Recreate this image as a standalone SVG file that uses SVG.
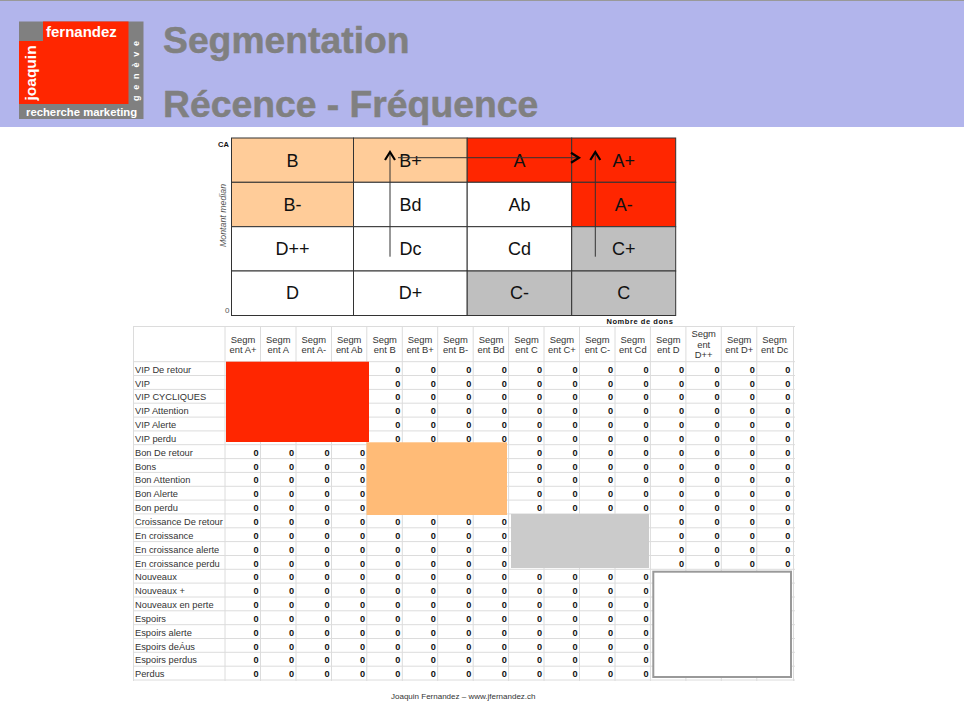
<svg xmlns="http://www.w3.org/2000/svg" width="964" height="703" viewBox="0 0 964 703">
<style>
text{font-family:"Liberation Sans",Arial,sans-serif}
.cell{stroke:#333;stroke-width:1}
.cl{font-size:18px;fill:#111;text-anchor:middle}
.grid{stroke:#dcdcdc;stroke-width:1;fill:none}
.h{font-size:9.4px;fill:#333;text-anchor:middle}
.l{font-size:9.3px;fill:#333}
.z text{font-size:9.2px;font-weight:bold;fill:#111}
.title{font-size:37.3px;font-weight:bold;fill:#808080;stroke:#808080;stroke-width:.5}
.arrow{stroke:#333;stroke-width:1;fill:none;marker-end:url(#head)}
</style>
<defs>
<marker id="head" markerUnits="userSpaceOnUse" markerWidth="14" markerHeight="14" refX="9" refY="6" orient="auto"><path d="M1 1L9 6L1 11" fill="none" stroke="#000" stroke-width="2.2"/></marker>
</defs>
<rect width="964" height="703" fill="#fff"/>
<g id="banner">
<rect x="0" y="0" width="964" height="127" fill="#b2b5ec"/>
<rect x="0" y="0" width="964" height="1" fill="#999"/>
<text class="title" x="163" y="53">Segmentation</text>
<text class="title" x="163" y="117">Récence - Fréquence</text>
</g>
<g id="logo">
<rect x="19" y="21.5" width="124.5" height="97.5" fill="#808080"/>
<path d="M43 21.5H128.5V104H19V41H43Z" fill="#ff2600"/>
<text x="46" y="37" font-size="15" font-weight="bold" fill="#fff">fernandez</text>
<text transform="translate(36,100.5) rotate(-90)" font-size="15.5" font-weight="bold" fill="#fff">joaquin</text>
<text x="26" y="116" font-size="11.3" font-weight="bold" fill="#fff">recherche marketing</text>
<text transform="translate(139,101) rotate(-90)" font-size="9" font-weight="bold" fill="#fff" letter-spacing="5.8">genève</text>
</g>
<g id="matrix">
<g id="cell-B"><rect class="cell" x="231.5" y="138" width="122" height="44.3" fill="#fc9"/><text class="cl" x="292.5" y="166.7">B</text></g>
<g id="cell-Bp"><rect class="cell" x="353.5" y="138" width="113.7" height="44.3" fill="#fc9"/><text class="cl" x="410.5" y="166.7">B+</text></g>
<g id="cell-A"><rect class="cell" x="467.2" y="138" width="104.5" height="44.3" fill="#ff2600"/><text class="cl" x="519.5" y="166.7">A</text></g>
<g id="cell-Ap"><rect class="cell" x="571.7" y="138" width="104" height="44.3" fill="#ff2600"/><text class="cl" x="623.7" y="166.7">A+</text></g>
<g id="cell-Bm"><rect class="cell" x="231.5" y="182.3" width="122" height="44.4" fill="#fc9"/><text class="cl" x="292.5" y="211">B-</text></g>
<g id="cell-Bd"><rect class="cell" x="353.5" y="182.3" width="113.7" height="44.4" fill="#fff"/><text class="cl" x="410.5" y="211">Bd</text></g>
<g id="cell-Ab"><rect class="cell" x="467.2" y="182.3" width="104.5" height="44.4" fill="#fff"/><text class="cl" x="519.5" y="211">Ab</text></g>
<g id="cell-Am"><rect class="cell" x="571.7" y="182.3" width="104" height="44.4" fill="#ff2600"/><text class="cl" x="623.7" y="211">A-</text></g>
<g id="cell-Dpp"><rect class="cell" x="231.5" y="226.7" width="122" height="44.3" fill="#fff"/><text class="cl" x="292.5" y="255">D++</text></g>
<g id="cell-Dc"><rect class="cell" x="353.5" y="226.7" width="113.7" height="44.3" fill="#fff"/><text class="cl" x="410.5" y="255">Dc</text></g>
<g id="cell-Cd"><rect class="cell" x="467.2" y="226.7" width="104.5" height="44.3" fill="#fff"/><text class="cl" x="519.5" y="255">Cd</text></g>
<g id="cell-Cp"><rect class="cell" x="571.7" y="226.7" width="104" height="44.3" fill="#bfbfbf"/><text class="cl" x="623.7" y="255">C+</text></g>
<g id="cell-D"><rect class="cell" x="231.5" y="271" width="122" height="44.5" fill="#fff"/><text class="cl" x="292.5" y="299">D</text></g>
<g id="cell-Dp"><rect class="cell" x="353.5" y="271" width="113.7" height="44.5" fill="#fff"/><text class="cl" x="410.5" y="299">D+</text></g>
<g id="cell-Cm"><rect class="cell" x="467.2" y="271" width="104.5" height="44.5" fill="#bfbfbf"/><text class="cl" x="519.5" y="299">C-</text></g>
<g id="cell-C"><rect class="cell" x="571.7" y="271" width="104" height="44.5" fill="#bfbfbf"/><text class="cl" x="623.7" y="299">C</text></g>
<text x="218" y="147" font-size="7.5" font-weight="bold" fill="#111">CA</text>
<text x="225" y="313" font-size="8" fill="#555">0</text>
<text transform="translate(226,247) rotate(-90)" font-size="8.8" font-style="italic" fill="#555">Montant median</text>
<text x="606.5" y="323.5" font-size="7.5" font-weight="bold" fill="#111" letter-spacing="0.55">Nombre de dons</text>
</g>
<g id="connectors">
<path class="arrow" d="M390 256.7V152"/>
<path class="arrow" d="M595.3 256.7V152"/>
<path class="arrow" d="M398 157.7H579"/>
</g>
<g id="grid" class="grid">
<path d="M133.5 326V681M225 326V681M260.5 326V681M296 326V681M331.5 326V681M366.8 326V681M402.3 326V681M437.7 326V681M473.2 326V681M508.6 326V681M544 326V681M579.5 326V681M615 326V681M650.4 326V681M685.9 326V681M721.3 326V681M756.8 326V681M793.5 326V681"/>
<path d="M133 326.5H795M133 361.7H795M133 375.5H795M133 389.4H795M133 403.2H795M133 417.1H795M133 430.9H795M133 444.7H795M133 458.6H795M133 472.4H795M133 486.3H795M133 500.1H795M133 513.9H795M133 527.8H795M133 541.6H795M133 555.5H795M133 569.3H795M133 583.1H795M133 597H795M133 610.8H795M133 624.7H795M133 638.5H795M133 652.3H795M133 666.2H795M133 680H795"/>
</g>
<g id="headers">
<text class="h" x="243" y="343">Segm</text><text class="h" x="243" y="353">ent A+</text>
<text class="h" x="278.3" y="343">Segm</text><text class="h" x="278.3" y="353">ent A</text>
<text class="h" x="313.8" y="343">Segm</text><text class="h" x="313.8" y="353">ent A-</text>
<text class="h" x="349.2" y="343">Segm</text><text class="h" x="349.2" y="353">ent Ab</text>
<text class="h" x="384.7" y="343">Segm</text><text class="h" x="384.7" y="353">ent B</text>
<text class="h" x="420.1" y="343">Segm</text><text class="h" x="420.1" y="353">ent B+</text>
<text class="h" x="455.6" y="343">Segm</text><text class="h" x="455.6" y="353">ent B-</text>
<text class="h" x="491" y="343">Segm</text><text class="h" x="491" y="353">ent Bd</text>
<text class="h" x="526.5" y="343">Segm</text><text class="h" x="526.5" y="353">ent C</text>
<text class="h" x="561.9" y="343">Segm</text><text class="h" x="561.9" y="353">ent C+</text>
<text class="h" x="597.4" y="343">Segm</text><text class="h" x="597.4" y="353">ent C-</text>
<text class="h" x="632.8" y="343">Segm</text><text class="h" x="632.8" y="353">ent Cd</text>
<text class="h" x="668.3" y="343">Segm</text><text class="h" x="668.3" y="353">ent D</text>
<text class="h" x="703.7" y="337">Segm</text><text class="h" x="703.7" y="347.5">ent</text><text class="h" x="703.7" y="358">D++</text>
<text class="h" x="739.2" y="343">Segm</text><text class="h" x="739.2" y="353">ent D+</text>
<text class="h" x="774.6" y="343">Segm</text><text class="h" x="774.6" y="353">ent Dc</text>
</g>
<g id="row-labels">
<text class="l" x="135" y="372.7">VIP De retour</text>
<text class="l" x="135" y="386.5">VIP</text>
<text class="l" x="135" y="400.4">VIP CYCLIQUES</text>
<text class="l" x="135" y="414.2">VIP Attention</text>
<text class="l" x="135" y="428.1">VIP Alerte</text>
<text class="l" x="135" y="441.9">VIP perdu</text>
<text class="l" x="135" y="455.7">Bon De retour</text>
<text class="l" x="135" y="469.6">Bons</text>
<text class="l" x="135" y="483.4">Bon Attention</text>
<text class="l" x="135" y="497.3">Bon Alerte</text>
<text class="l" x="135" y="511.1">Bon perdu</text>
<text class="l" x="135" y="524.9">Croissance De retour</text>
<text class="l" x="135" y="538.8">En croissance</text>
<text class="l" x="135" y="552.6">En croissance alerte</text>
<text class="l" x="135" y="566.5">En croissance perdu</text>
<text class="l" x="135" y="580.3">Nouveaux</text>
<text class="l" x="135" y="594.1">Nouveaux +</text>
<text class="l" x="135" y="608">Nouveaux en perte</text>
<text class="l" x="135" y="621.8">Espoirs</text>
<text class="l" x="135" y="635.7">Espoirs alerte</text>
<text class="l" x="135" y="649.5">Espoirs deÁus</text>
<text class="l" x="135" y="663.3">Espoirs perdus</text>
<text class="l" x="135" y="677.2">Perdus</text>
</g>
<g id="zeros" class="z">
<g transform="translate(0,372.7)"><text x="395.3">0</text><text x="430.8">0</text><text x="466.2">0</text><text x="501.7">0</text><text x="537.1">0</text><text x="572.6">0</text><text x="608">0</text><text x="643.5">0</text><text x="678.9">0</text><text x="714.4">0</text><text x="749.8">0</text><text x="785.3">0</text></g>
<g transform="translate(0,386.5)"><text x="395.3">0</text><text x="430.8">0</text><text x="466.2">0</text><text x="501.7">0</text><text x="537.1">0</text><text x="572.6">0</text><text x="608">0</text><text x="643.5">0</text><text x="678.9">0</text><text x="714.4">0</text><text x="749.8">0</text><text x="785.3">0</text></g>
<g transform="translate(0,400.4)"><text x="395.3">0</text><text x="430.8">0</text><text x="466.2">0</text><text x="501.7">0</text><text x="537.1">0</text><text x="572.6">0</text><text x="608">0</text><text x="643.5">0</text><text x="678.9">0</text><text x="714.4">0</text><text x="749.8">0</text><text x="785.3">0</text></g>
<g transform="translate(0,414.2)"><text x="395.3">0</text><text x="430.8">0</text><text x="466.2">0</text><text x="501.7">0</text><text x="537.1">0</text><text x="572.6">0</text><text x="608">0</text><text x="643.5">0</text><text x="678.9">0</text><text x="714.4">0</text><text x="749.8">0</text><text x="785.3">0</text></g>
<g transform="translate(0,428.1)"><text x="395.3">0</text><text x="430.8">0</text><text x="466.2">0</text><text x="501.7">0</text><text x="537.1">0</text><text x="572.6">0</text><text x="608">0</text><text x="643.5">0</text><text x="678.9">0</text><text x="714.4">0</text><text x="749.8">0</text><text x="785.3">0</text></g>
<g transform="translate(0,441.9)"><text x="395.3">0</text><text x="430.8">0</text><text x="466.2">0</text><text x="501.7">0</text><text x="537.1">0</text><text x="572.6">0</text><text x="608">0</text><text x="643.5">0</text><text x="678.9">0</text><text x="714.4">0</text><text x="749.8">0</text><text x="785.3">0</text></g>
<g transform="translate(0,455.7)"><text x="253.5">0</text><text x="289">0</text><text x="324.4">0</text><text x="359.9">0</text><text x="537.1">0</text><text x="572.6">0</text><text x="608">0</text><text x="643.5">0</text><text x="678.9">0</text><text x="714.4">0</text><text x="749.8">0</text><text x="785.3">0</text></g>
<g transform="translate(0,469.6)"><text x="253.5">0</text><text x="289">0</text><text x="324.4">0</text><text x="359.9">0</text><text x="537.1">0</text><text x="572.6">0</text><text x="608">0</text><text x="643.5">0</text><text x="678.9">0</text><text x="714.4">0</text><text x="749.8">0</text><text x="785.3">0</text></g>
<g transform="translate(0,483.4)"><text x="253.5">0</text><text x="289">0</text><text x="324.4">0</text><text x="359.9">0</text><text x="537.1">0</text><text x="572.6">0</text><text x="608">0</text><text x="643.5">0</text><text x="678.9">0</text><text x="714.4">0</text><text x="749.8">0</text><text x="785.3">0</text></g>
<g transform="translate(0,497.3)"><text x="253.5">0</text><text x="289">0</text><text x="324.4">0</text><text x="359.9">0</text><text x="537.1">0</text><text x="572.6">0</text><text x="608">0</text><text x="643.5">0</text><text x="678.9">0</text><text x="714.4">0</text><text x="749.8">0</text><text x="785.3">0</text></g>
<g transform="translate(0,511.1)"><text x="253.5">0</text><text x="289">0</text><text x="324.4">0</text><text x="359.9">0</text><text x="537.1">0</text><text x="572.6">0</text><text x="608">0</text><text x="643.5">0</text><text x="678.9">0</text><text x="714.4">0</text><text x="749.8">0</text><text x="785.3">0</text></g>
<g transform="translate(0,524.9)"><text x="253.5">0</text><text x="289">0</text><text x="324.4">0</text><text x="359.9">0</text><text x="395.3">0</text><text x="430.8">0</text><text x="466.2">0</text><text x="501.7">0</text><text x="678.9">0</text><text x="714.4">0</text><text x="749.8">0</text><text x="785.3">0</text></g>
<g transform="translate(0,538.8)"><text x="253.5">0</text><text x="289">0</text><text x="324.4">0</text><text x="359.9">0</text><text x="395.3">0</text><text x="430.8">0</text><text x="466.2">0</text><text x="501.7">0</text><text x="678.9">0</text><text x="714.4">0</text><text x="749.8">0</text><text x="785.3">0</text></g>
<g transform="translate(0,552.6)"><text x="253.5">0</text><text x="289">0</text><text x="324.4">0</text><text x="359.9">0</text><text x="395.3">0</text><text x="430.8">0</text><text x="466.2">0</text><text x="501.7">0</text><text x="678.9">0</text><text x="714.4">0</text><text x="749.8">0</text><text x="785.3">0</text></g>
<g transform="translate(0,566.5)"><text x="253.5">0</text><text x="289">0</text><text x="324.4">0</text><text x="359.9">0</text><text x="395.3">0</text><text x="430.8">0</text><text x="466.2">0</text><text x="501.7">0</text><text x="678.9">0</text><text x="714.4">0</text><text x="749.8">0</text><text x="785.3">0</text></g>
<g transform="translate(0,580.3)"><text x="253.5">0</text><text x="289">0</text><text x="324.4">0</text><text x="359.9">0</text><text x="395.3">0</text><text x="430.8">0</text><text x="466.2">0</text><text x="501.7">0</text><text x="537.1">0</text><text x="572.6">0</text><text x="608">0</text><text x="643.5">0</text></g>
<g transform="translate(0,594.1)"><text x="253.5">0</text><text x="289">0</text><text x="324.4">0</text><text x="359.9">0</text><text x="395.3">0</text><text x="430.8">0</text><text x="466.2">0</text><text x="501.7">0</text><text x="537.1">0</text><text x="572.6">0</text><text x="608">0</text><text x="643.5">0</text></g>
<g transform="translate(0,608)"><text x="253.5">0</text><text x="289">0</text><text x="324.4">0</text><text x="359.9">0</text><text x="395.3">0</text><text x="430.8">0</text><text x="466.2">0</text><text x="501.7">0</text><text x="537.1">0</text><text x="572.6">0</text><text x="608">0</text><text x="643.5">0</text></g>
<g transform="translate(0,621.8)"><text x="253.5">0</text><text x="289">0</text><text x="324.4">0</text><text x="359.9">0</text><text x="395.3">0</text><text x="430.8">0</text><text x="466.2">0</text><text x="501.7">0</text><text x="537.1">0</text><text x="572.6">0</text><text x="608">0</text><text x="643.5">0</text></g>
<g transform="translate(0,635.7)"><text x="253.5">0</text><text x="289">0</text><text x="324.4">0</text><text x="359.9">0</text><text x="395.3">0</text><text x="430.8">0</text><text x="466.2">0</text><text x="501.7">0</text><text x="537.1">0</text><text x="572.6">0</text><text x="608">0</text><text x="643.5">0</text></g>
<g transform="translate(0,649.5)"><text x="253.5">0</text><text x="289">0</text><text x="324.4">0</text><text x="359.9">0</text><text x="395.3">0</text><text x="430.8">0</text><text x="466.2">0</text><text x="501.7">0</text><text x="537.1">0</text><text x="572.6">0</text><text x="608">0</text><text x="643.5">0</text></g>
<g transform="translate(0,663.3)"><text x="253.5">0</text><text x="289">0</text><text x="324.4">0</text><text x="359.9">0</text><text x="395.3">0</text><text x="430.8">0</text><text x="466.2">0</text><text x="501.7">0</text><text x="537.1">0</text><text x="572.6">0</text><text x="608">0</text><text x="643.5">0</text></g>
<g transform="translate(0,677.2)"><text x="253.5">0</text><text x="289">0</text><text x="324.4">0</text><text x="359.9">0</text><text x="395.3">0</text><text x="430.8">0</text><text x="466.2">0</text><text x="501.7">0</text><text x="537.1">0</text><text x="572.6">0</text><text x="608">0</text><text x="643.5">0</text></g>
</g>
<g id="blocks">
<rect x="226" y="361.7" width="143" height="80.3" fill="#ff2600"/>
<rect x="366.5" y="442.3" width="140.5" height="72.7" fill="#ffbb77"/>
<rect x="511" y="514" width="138" height="54" fill="#cbcbcb"/>
<rect x="653.3" y="571.7" width="137.7" height="105.3" fill="#fff" stroke="#999" stroke-width="2"/>
</g>
<text id="footer" x="391" y="699" font-size="8" fill="#333">Joaquin Fernandez – www.jfernandez.ch</text>
</svg>
